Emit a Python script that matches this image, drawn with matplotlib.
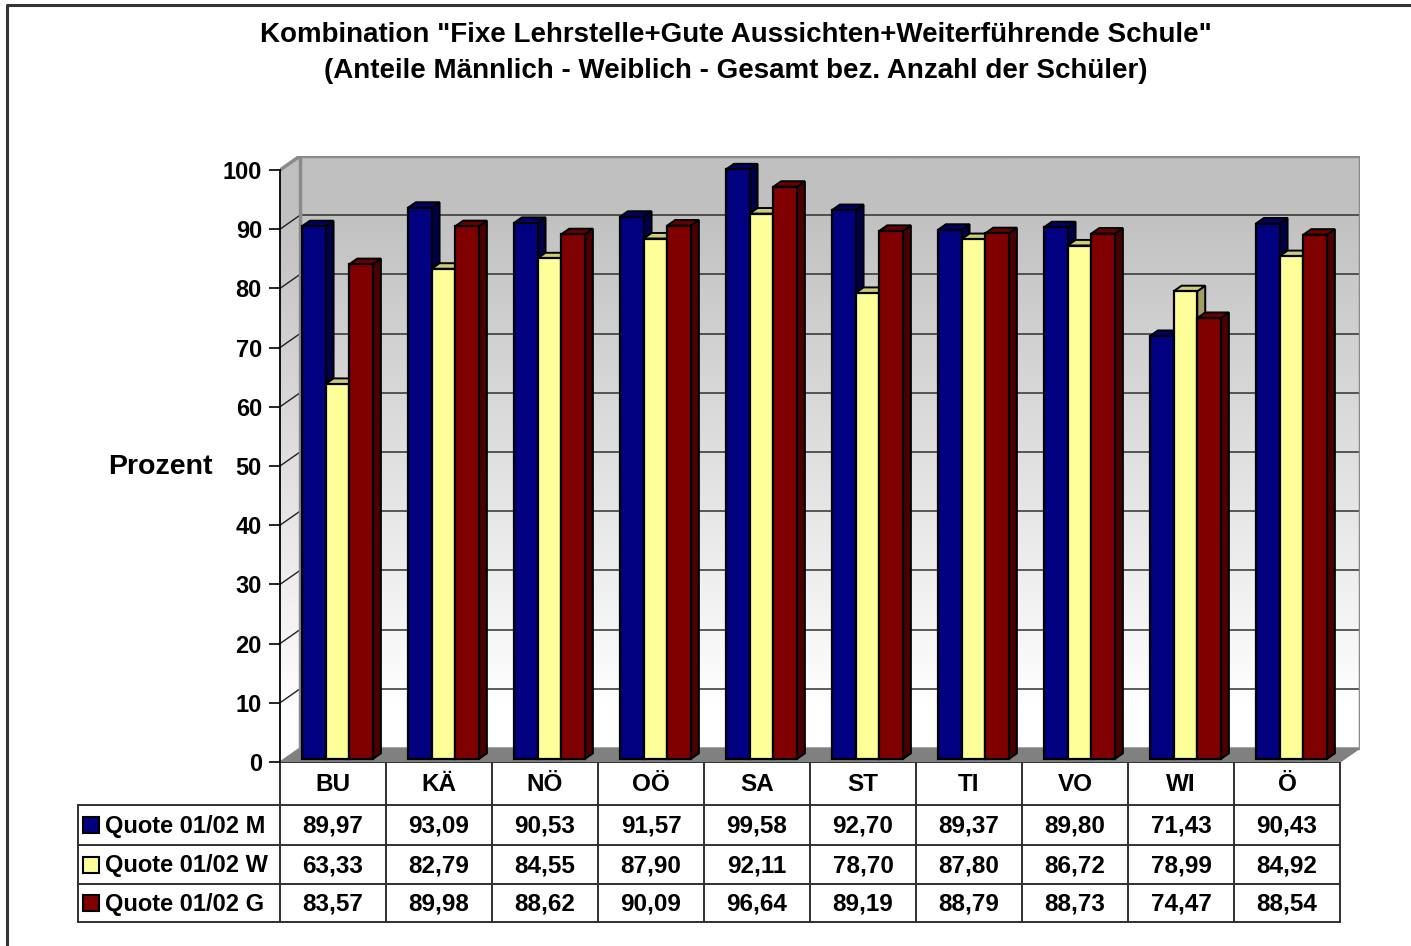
import numpy as np
import matplotlib
matplotlib.use('Agg')
import matplotlib.pyplot as plt
from matplotlib.patches import Polygon, Rectangle
from matplotlib.transforms import blended_transform_factory

# ---------------- data ----------------
categories = ['BU', 'KÄ', 'NÖ', 'OÖ', 'SA', 'ST', 'TI', 'VO', 'WI', 'Ö']
series_names = ['Quote 01/02 M', 'Quote 01/02 W', 'Quote 01/02 G']
quote_m = [89.97, 93.09, 90.53, 91.57, 99.58, 92.70, 89.37, 89.80, 71.43, 90.43]
quote_w = [63.33, 82.79, 84.55, 87.90, 92.11, 78.70, 87.80, 86.72, 78.99, 84.92]
quote_g = [83.57, 89.98, 88.62, 90.09, 96.64, 89.19, 88.79, 88.73, 74.47, 88.54]
yticks = list(range(0, 101, 10))
title_lines = ['Kombination "Fixe Lehrstelle+Gute Aussichten+Weiterführende Schule"',
               '(Anteile Männlich - Weiblich - Gesamt bez. Anzahl der Schüler)']
ylabel = 'Prozent'

# ---------------- style ----------------
front_colors = ['#000080', '#FFFF99', '#800000']
top_colors = ['#000068', '#cccc7a', '#680000']
side_colors = ['#00004a', '#a0a060', '#480000']

plt.rcParams['font.family'] = ['Liberation Sans', 'DejaVu Sans']
plt.rcParams['font.weight'] = 'bold'

W, H = 1411, 946
fig = plt.figure(figsize=(W / 100, H / 100), dpi=100)

ov = fig.add_axes([0, 0, 1, 1])
ov.set_xlim(0, W)
ov.set_ylim(H, 0)
ov.axis('off')

px_per_cat = 106.0
px_per_pct = 5.92
ddx = 20 / px_per_cat
ddy = 14 / px_per_pct
x0_px, y0_px = 280, 762
n = len(categories)
ax_w = (n + ddx) * px_per_cat
ax_h = (100 + ddy) * px_per_pct
ax = fig.add_axes([x0_px / W, 1 - y0_px / H, ax_w / W, ax_h / H])
ax.patch.set_alpha(0)
xl, xr = -0.5, n - 0.5

# back wall gradient
t = np.linspace(0, 1, 300)[:, None]
g = (192 + 63 * np.clip((t - 0.08) / 0.85, 0, 1)) / 255
img = np.dstack([g, g, g])
ax.imshow(img, extent=[xl + ddx, xr + ddx, ddy, 100 + ddy], aspect='auto',
          origin='upper', zorder=0, interpolation='bilinear')
# left wall gradient
lw_poly = Polygon([(xl, 0), (xl + ddx, ddy), (xl + ddx, 100 + ddy), (xl, 100)],
                  closed=True, transform=ax.transData, facecolor='none', edgecolor='none')
im2 = ax.imshow(img, extent=[xl, xl + ddx, 0, 100 + ddy], aspect='auto',
                origin='upper', zorder=0, interpolation='bilinear')
im2.set_clip_path(lw_poly)

# gridlines + diagonals
for v in yticks[1:-1]:
    ax.plot([xl + ddx, xr + ddx], [v + ddy, v + ddy], color='#303030', lw=1.1, zorder=1)
    ax.plot([xl, xl + ddx], [v, v + ddy], color='#202020', lw=1.0, zorder=1)

# floor
ax.add_patch(Polygon([(xl, 0), (xr, 0), (xr + ddx, ddy), (xl + ddx, ddy)], closed=True,
                     facecolor='#808080', edgecolor='#808080', lw=1, zorder=1))
# wall borders
gc = '#8a8a8a'
ax.plot([xl + ddx, xl + ddx, xr + ddx, xr + ddx], [ddy, 100 + ddy, 100 + ddy, ddy],
        color=gc, lw=2.5, zorder=1.5, solid_joinstyle='miter')
ax.plot([xl, xl + ddx], [100, 100 + ddy], color=gc, lw=2.5, zorder=1.5)

# bars
series = [quote_m, quote_w, quote_g]
bw = 0.2233
f0 = 0.22
bd = 0.4
yb = f0 * ddy
bdx, bdy = bd * ddx, bd * ddy
z = 3
for i in range(n):
    for j, vals in enumerate(series):
        v = vals[i]
        x = i - 1.5 * bw + j * bw + f0 * ddx
        top = v + yb
        ax.add_patch(Polygon([(x + bw, yb), (x + bw + bdx, yb + bdy), (x + bw + bdx, top + bdy), (x + bw, top)],
                             closed=True, facecolor=side_colors[j], edgecolor='black', lw=1.4, zorder=z))
        ax.add_patch(Polygon([(x, top), (x + bw, top), (x + bw + bdx, top + bdy), (x + bdx, top + bdy)],
                             closed=True, facecolor=top_colors[j], edgecolor='black', lw=1.4, zorder=z))
        ax.bar([x], [v], width=bw, bottom=yb, align='edge', color=front_colors[j],
               edgecolor='black', linewidth=1.6, zorder=z + 0.5)
        z += 1

ax.set_xlim(xl, xr + ddx)
ax.set_ylim(0, 100 + ddy)
for s in ['top', 'right', 'bottom']:
    ax.spines[s].set_visible(False)
ax.spines['left'].set_bounds(0, 100)
ax.spines['left'].set_linewidth(1.3)
ax.set_xticks([])
ax.set_yticks(yticks)
ax.set_yticklabels([str(v) for v in yticks], fontsize=17, fontweight='bold')
ax.tick_params(axis='y', direction='out', length=8, width=1.2, pad=5)
ax.set_ylabel(ylabel, rotation=0, fontsize=20.5, fontweight='bold', ha='center', va='center')
ax.yaxis.set_label_coords(-0.111, (y0_px - 467) / ax_h)

# title
ov.text(736, 35, title_lines[0], ha='center', va='center', fontsize=20, fontweight='bold')
ov.text(736, 71, title_lines[1], ha='center', va='center', fontsize=20, fontweight='bold')

# data table
tr = blended_transform_factory(ax.transData, ov.transData)
row_y = [762, 805, 845, 884, 922]
tc = '#303030'
tlw = 1.4
ov.plot([xl, xr], [row_y[0], row_y[0]], transform=tr, color=tc, lw=tlw)
for yy in row_y[1:]:
    ov.plot([78, 280], [yy, yy], color=tc, lw=tlw)
    ov.plot([xl, xr], [yy, yy], transform=tr, color=tc, lw=tlw)
ov.plot([78, 78], [row_y[1], row_y[-1]], color=tc, lw=tlw)
for k in range(n + 1):
    ov.plot([k - 0.5, k - 0.5], [row_y[0], row_y[-1]], transform=tr, color=tc, lw=tlw)
for i, c in enumerate(categories):
    ov.text(i, (row_y[0] + row_y[1]) / 2 + 1, c, transform=tr, ha='center', va='center',
            fontsize=17.5, fontweight='bold')
for r, (name, vals) in enumerate(zip(series_names, series)):
    yc = (row_y[r + 1] + row_y[r + 2]) / 2
    ov.add_patch(Rectangle((83, yc - 8), 16, 16, facecolor=front_colors[r], edgecolor='black', lw=1.5))
    ov.text(105, yc + 1, name, ha='left', va='center', fontsize=17, fontweight='bold')
    for i, v in enumerate(vals):
        ov.text(i, yc + 1, f'{v:.2f}'.replace('.', ','), transform=tr, ha='center', va='center',
                fontsize=17.5, fontweight='bold')

# outer border (left and top visible)
ov.plot([7, 7, W], [H, 5, 5], color='#333333', lw=2.2)

fig.savefig('out.png', dpi=100)
